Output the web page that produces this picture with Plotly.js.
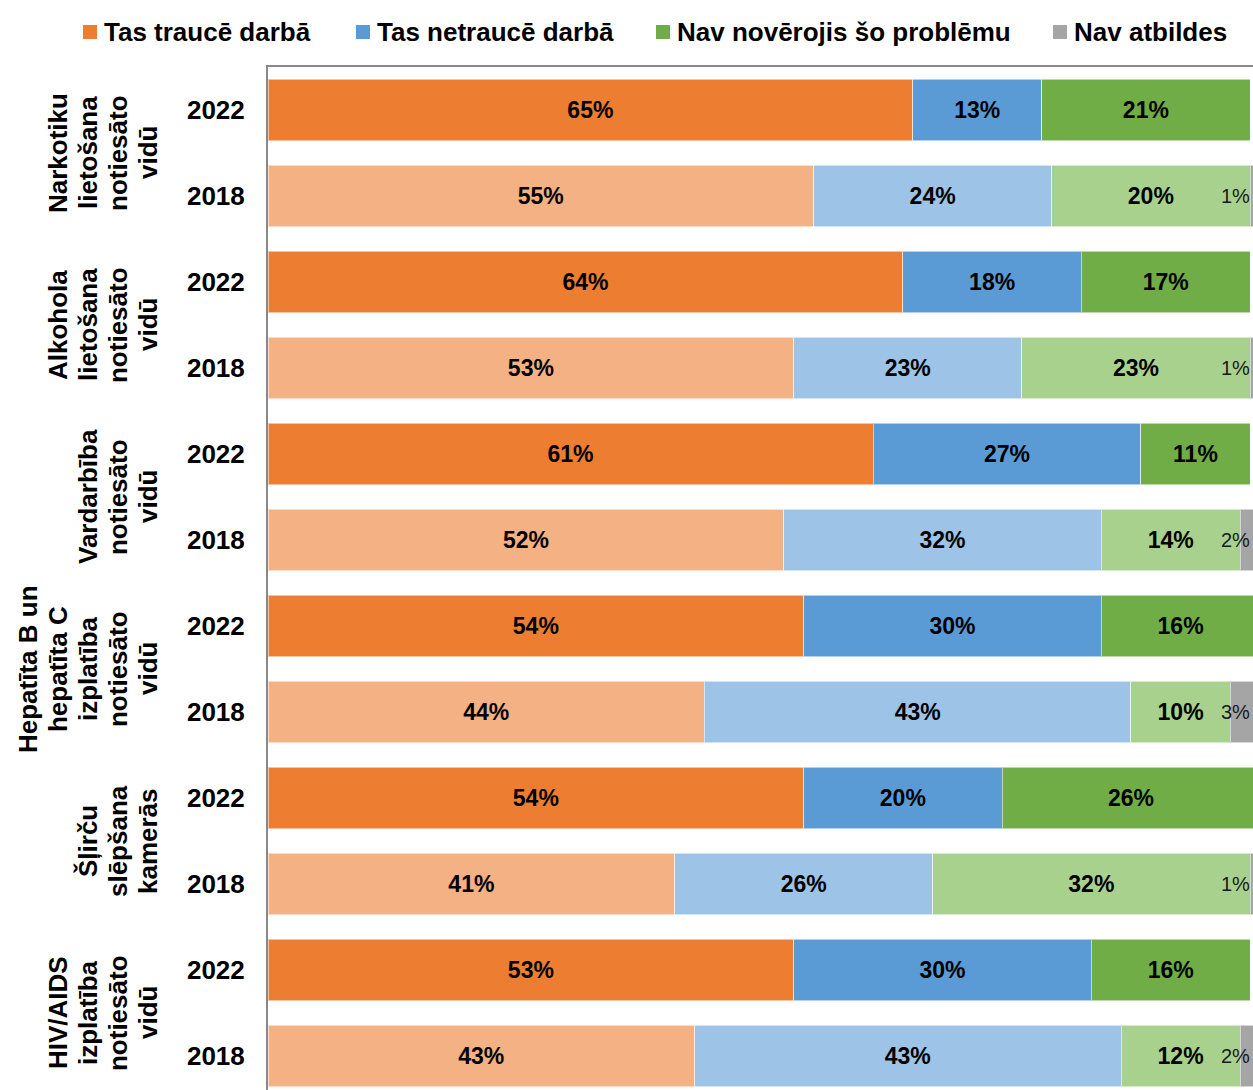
<!DOCTYPE html>
<html>
<head>
<meta charset="utf-8">
<script src="https://cdn.plot.ly/plotly-3.0.1.min.js"></script>
<style>
  html, body { margin: 0; padding: 0; background: #ffffff; }
  #chart { width: 1253px; height: 1090px; }
</style>
</head>
<body>
<div id="chart"></div>
<script>
// Problem areas (rotated group labels, line breaks as drawn)
const categories = [
  "Narkotiku<br>lietošana<br>notiesāto<br>vidū",
  "Alkohola<br>lietošana<br>notiesāto<br>vidū",
  "Vardarbība<br>notiesāto<br>vidū",
  "Hepatīta B un<br>hepatīta C<br>izplatība<br>notiesāto<br>vidū",
  "Šļirču<br>slēpšana<br>kamerās",
  "HIV/AIDS<br>izplatība<br>notiesāto<br>vidū"
];
const years = ["2022", "2018"];

// Shares of respondents, % (per area, same order as categories)
const disturbs2022     = [65, 64, 61, 54, 54, 53];
const disturbs2018     = [55, 53, 52, 44, 41, 43];
const noDisturb2022    = [13, 18, 27, 30, 20, 30];
const noDisturb2018    = [24, 23, 32, 43, 26, 43];
const notObserved2022  = [21, 17, 11, 16, 26, 16];
const notObserved2018  = [20, 23, 14, 10, 32, 12];
const noAnswer2022     = [null, null, null, null, null, null];
const noAnswer2018     = [1, 1, 2, 3, 1, 2];

const seriesNames = ["Tas traucē darbā", "Tas netraucē darbā", "Nav novērojis šo problēmu", "Nav atbildes"];

// Colours: strong for 2022, pale for 2018
const colors2022 = ["#ED7D31", "#5B9BD5", "#70AD47", "#A5A5A5"];
const colors2018 = ["#F4B183", "#9DC3E6", "#A9D18E", "#A5A5A5"];

// Page geometry (pixels)
const W = 1253, H = 1090;
const M = { l: 268, r: 0, t: 67, b: 0 };
const plotW = W - M.l - M.r, plotH = H - M.t - M.b;
const px2paperX = px => (px - M.l) / plotW;
const px2paperY = py => 1 + (M.t - py) / plotH;

// One row per area and year, 2022 above 2018
const rowKeys = [];
const rowYears = [];
categories.forEach((c, i) => {
  years.forEach(y => { rowKeys.push(i + "-" + y); rowYears.push(y); });
});

function interleave(a2022, a2018) {
  const out = [];
  for (let i = 0; i < a2022.length; i++) { out.push(a2022[i]); out.push(a2018[i]); }
  return out;
}

const series = [
  interleave(disturbs2022, disturbs2018),
  interleave(noDisturb2022, noDisturb2018),
  interleave(notObserved2022, notObserved2018),
  interleave(noAnswer2022, noAnswer2018)
];

const FONT = "Liberation Sans, Arial, sans-serif";

const traces = series.map((vals, k) => {
  const colorArr = rowYears.map(y => (y === "2022" ? colors2022[k] : colors2018[k]));
  const labelled = k < 3;
  return {
    type: "bar",
    orientation: "h",
    name: seriesNames[k],
    y: rowKeys,
    x: vals,
    showlegend: false,
    marker: { color: colorArr, line: { color: "rgba(255,255,255,0.55)", width: 1 } },
    text: labelled ? vals.map(v => (v == null ? "" : v + "%")) : undefined,
    texttemplate: labelled ? "%{text}" : undefined,
    textposition: labelled ? "inside" : "none",
    insidetextanchor: "middle",
    constraintext: "none",
    textfont: { family: FONT, size: 23, weight: "bold", color: "#000000" },
    hoverinfo: "name+x"
  };
});

const annotations = [];
const shapes = [];

// Legend row across the top: coloured square + series name
const legendSquareX = [83, 356, 656, 1053];
const legendY = 32, legendSq = 14;
seriesNames.forEach((name, k) => {
  const x0 = legendSquareX[k];
  shapes.push({
    type: "rect", xref: "paper", yref: "paper",
    x0: px2paperX(x0), x1: px2paperX(x0 + legendSq),
    y0: px2paperY(legendY + legendSq / 2), y1: px2paperY(legendY - legendSq / 2),
    fillcolor: colors2022[k], line: { width: 0 }
  });
  annotations.push({
    xref: "paper", yref: "paper",
    x: px2paperX(x0 + legendSq + 5), y: px2paperY(legendY),
    xanchor: "left", yanchor: "middle",
    text: name, showarrow: false,
    font: { family: FONT, size: 26, weight: "bold", color: "#000000" }
  });
});

// Group labels on the left, rotated; one annotation per line, last line nearest the years
const groupLastLineX = 148, groupLineStep = 30;
categories.forEach((c, i) => {
  const lines = c.split("<br>");
  lines.forEach((line, j) => {
    const cx = groupLastLineX - (lines.length - 1 - j) * groupLineStep;
    annotations.push({
      xref: "paper", yref: "y",
      x: px2paperX(cx), y: i * 2 + 0.5,
      xanchor: "center", yanchor: "middle",
      text: line, textangle: -90, showarrow: false,
      font: { family: FONT, size: 26, weight: "bold", color: "#000000" }
    });
  });
});

// Small "no answer" values, written just left of the grey sliver
const noAnswerRows = interleave(noAnswer2022, noAnswer2018);
noAnswerRows.forEach((v, r) => {
  if (v == null) return;
  annotations.push({
    xref: "x", yref: "y",
    x: 97.5, y: rowKeys[r],
    xanchor: "center", yanchor: "middle",
    text: v + "%", showarrow: false,
    font: { family: FONT, size: 20, color: "#1a1a1a" }
  });
});

const layout = {
  width: W,
  height: H,
  margin: { l: M.l, r: M.r, t: M.t, b: M.b, pad: 0, autoexpand: false },
  paper_bgcolor: "#ffffff",
  plot_bgcolor: "#ffffff",
  font: { family: FONT, color: "#000000" },
  barmode: "stack",
  bargap: 0.28,
  showlegend: false,
  xaxis: {
    side: "top",
    range: [0, 99.3],
    showline: true, linecolor: "#898989", linewidth: 2,
    showgrid: false, zeroline: false,
    showticklabels: false, ticks: "",
    fixedrange: true
  },
  yaxis: {
    type: "category",
    categoryorder: "array",
    categoryarray: rowKeys,
    range: [11.395, -0.5],
    tickvals: rowKeys,
    ticktext: rowYears,
    tickfont: { family: FONT, size: 26, weight: "bold", color: "#000000" },
    ticks: "",
    ticklabelstandoff: 16,
    showline: true, linecolor: "#898989", linewidth: 2,
    showgrid: false, zeroline: false,
    fixedrange: true
  },
  shapes: shapes,
  annotations: annotations
};

Plotly.newPlot("chart", traces, layout, { displayModeBar: false, staticPlot: true });
</script>
</body>
</html>
